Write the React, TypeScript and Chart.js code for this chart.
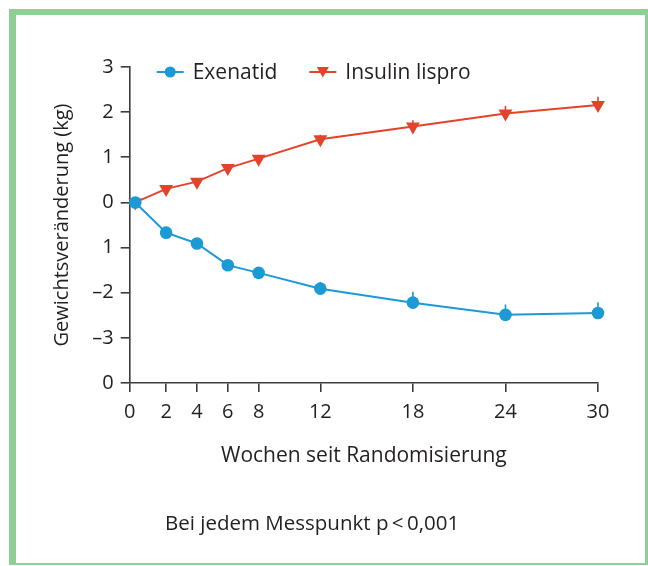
import React, { useEffect, useRef } from "react";
import { Chart, registerables } from "chart.js";

Chart.register(...registerables);

// ---- data ----
const weeks = [0, 2, 4, 6, 8, 12, 18, 24, 30];
const seriesNames = ["Exenatid", "Insulin lispro"];
const exenatid = [0, -0.67, -0.91, -1.39, -1.56, -1.91, -2.22, -2.49, -2.45];
const exenatidErr = [0, 0, 0, 0, 0.1, 0.15, 0.24, 0.23, 0.24];
const insulinLispro = [0, 0.3, 0.46, 0.76, 0.97, 1.4, 1.68, 1.97, 2.16];
const insulinErr = [0, 0, 0, 0, 0.08, 0.1, 0.14, 0.17, 0.18];

const xTickValues = [0, 2, 4, 6, 8, 12, 18, 24, 30];
const xTickLabels = ["0", "2", "4", "6", "8", "12", "18", "24", "30"];
const yTickValues = [-4, -3, -2, -1, 0, 1, 2, 3];
const yTickLabels = ["0", "\u20133", "\u20132", "1", "0", "1", "2", "3"];

const xTitle = "Wochen seit Randomisierung";
const yTitle = "Gewichtsver\u00e4nderung (kg)";
const footnote = "Bei jedem Messpunkt p\u2009<\u20090,001";

const BLUE = "#1b9ad6";
const RED = "#e3432a";
const INK = "#231f20";
const AXIS = "#3c3c3c";
const FONT = "'Open Sans', 'Noto Sans', sans-serif";

function drawMarker(ctx: CanvasRenderingContext2D, style: string, x: number, y: number, r: number, color: string) {
  ctx.fillStyle = color;
  ctx.beginPath();
  if (style === "triangle") {
    const s = Math.sin(Math.PI / 3) * r;
    ctx.moveTo(x, y + r);
    ctx.lineTo(x - s, y - r / 2);
    ctx.lineTo(x + s, y - r / 2);
    ctx.closePath();
  } else {
    ctx.arc(x, y, r, 0, Math.PI * 2);
  }
  ctx.fill();
}

const errorBarPlugin = {
  id: "errorBars",
  beforeDatasetsDraw(chart: any) {
    const { ctx, scales } = chart;
    const errs = [exenatidErr, insulinErr];
    ctx.save();
    chart.data.datasets.forEach((ds: any, i: number) => {
      ctx.strokeStyle = ds.borderColor;
      ctx.lineWidth = 1.6;
      ds.data.forEach((p: any, j: number) => {
        const e = errs[i][j];
        if (!e) return;
        const x = scales.x.getPixelForValue(p.x);
        const y0 = scales.y.getPixelForValue(p.y);
        const y1 = scales.y.getPixelForValue(p.y + e);
        ctx.beginPath();
        ctx.moveTo(x, y0);
        ctx.lineTo(x, y1);
        ctx.stroke();
      });
    });
    ctx.restore();
  },
};

const legendPlugin = {
  id: "customLegend",
  afterDraw(chart: any) {
    const { ctx, chartArea } = chart;
    const yc = chartArea.top + 5;
    let x = chartArea.left + 27;
    const iconW = 27;
    const fs = 21;
    ctx.save();
    ctx.font = `${fs}px ${FONT}`;
    ctx.textBaseline = "alphabetic";
    chart.data.datasets.forEach((ds: any) => {
      ctx.strokeStyle = ds.borderColor;
      ctx.lineWidth = 2;
      ctx.beginPath();
      ctx.moveTo(x, yc);
      ctx.lineTo(x + iconW, yc);
      ctx.stroke();
      const tri = ds.pointStyle === "triangle";
      drawMarker(ctx, ds.pointStyle, x + iconW / 2, tri ? yc - 1.5 : yc, tri ? 7 : 5.5, ds.pointBackgroundColor);
      ctx.fillStyle = INK;
      const tx = x + iconW + 9;
      ctx.fillText(ds.label, tx, yc + 0.357 * fs);
      x = tx + ctx.measureText(ds.label).width + 32;
    });
    ctx.restore();
  },
};

export default function App() {
  const ref = useRef<HTMLCanvasElement | null>(null);

  useEffect(() => {
    if (!ref.current) return;
    Chart.defaults.font.family = FONT;
    Chart.defaults.color = INK;
    const chart = new Chart(ref.current, {
      type: "line",
      data: {
        datasets: [
          {
            label: seriesNames[0],
            data: exenatid.map((v, i) => ({ x: weeks[i], y: v })),
            borderColor: BLUE,
            backgroundColor: BLUE,
            pointBackgroundColor: BLUE,
            pointBorderColor: BLUE,
            pointStyle: "circle",
            pointRadius: 6.3,
            pointBorderWidth: 0,
            borderWidth: 2,
            tension: 0,
            clip: false,
          },
          {
            label: seriesNames[1],
            data: insulinLispro.map((v, i) => ({ x: weeks[i], y: v })),
            borderColor: RED,
            backgroundColor: RED,
            pointBackgroundColor: RED,
            pointBorderColor: RED,
            pointStyle: "triangle",
            pointRotation: 180,
            pointRadius: 8,
            pointBorderWidth: 0,
            borderWidth: 2,
            tension: 0,
            clip: false,
          },
        ],
      },
      options: {
        responsive: false,
        animation: false,
        layout: { padding: { left: 40, right: 50, top: 67, bottom: 97.4 } },
        plugins: {
          legend: { display: false },
          tooltip: { enabled: false },
        },
        scales: {
          x: {
            type: "linear",
            min: -0.36,
            max: 30,
            afterBuildTicks: (scale: any) => {
              scale.ticks = xTickValues.map((v) => ({ value: v === 0 ? scale.min : v }));
            },
            afterFit: (scale: any) => {
              scale.height = 85.6;
            },
            ticks: {
              autoSkip: false,
              maxRotation: 0,
              padding: 8,
              font: { size: 20 },
              color: INK,
              callback: (_v: any, i: number) => xTickLabels[i],
            },
            grid: {
              display: true,
              drawOnChartArea: false,
              drawTicks: true,
              tickLength: 9,
              color: AXIS,
              lineWidth: 1.6,
            },
            border: { display: true, color: AXIS, width: 1.6 },
            title: {
              display: true,
              text: xTitle,
              font: { size: 21 },
              color: INK,
              padding: { top: 0, bottom: 0 },
            },
          },
          y: {
            type: "linear",
            min: -4,
            max: 3,
            afterBuildTicks: (scale: any) => {
              scale.ticks = yTickValues.map((v) => ({ value: v }));
            },
            afterFit: (scale: any) => {
              scale.width = 89.7;
            },
            ticks: {
              autoSkip: false,
              padding: 7,
              font: { size: 20 },
              color: INK,
              callback: (_v: any, i: number) => yTickLabels[i],
            },
            grid: {
              display: true,
              drawOnChartArea: false,
              drawTicks: true,
              tickLength: 9,
              color: AXIS,
              lineWidth: 1.6,
            },
            border: { display: true, color: AXIS, width: 1.6 },
            title: {
              display: true,
              text: yTitle,
              font: { size: 20 },
              color: INK,
              padding: { top: 10, bottom: 0 },
            },
          },
        },
      },
      plugins: [errorBarPlugin, legendPlugin],
    } as any);
    return () => chart.destroy();
  }, []);

  return (
    <div style={{ position: "fixed", left: 0, top: 0, width: 648, height: 566, background: "#ffffff", overflow: "hidden" }}>
      <canvas ref={ref} width={648} height={566} style={{ position: "absolute", left: 0, top: 0, width: 648, height: 566 }} />
      <div
        style={{
          position: "absolute",
          left: 165,
          top: 508,
          fontFamily: FONT,
          fontSize: 20.5,
          lineHeight: "28px",
          color: INK,
          whiteSpace: "nowrap",
        }}
      >
        {footnote}
      </div>
      <div
        style={{
          position: "absolute",
          left: 9,
          top: 9,
          width: 639,
          height: 556,
          boxSizing: "border-box",
          borderStyle: "solid",
          borderColor: "#8fcf96",
          borderTopWidth: 6,
          borderLeftWidth: 7,
          borderRightWidth: 3,
          borderBottomWidth: 2,
          pointerEvents: "none",
        }}
      />
    </div>
  );
}
